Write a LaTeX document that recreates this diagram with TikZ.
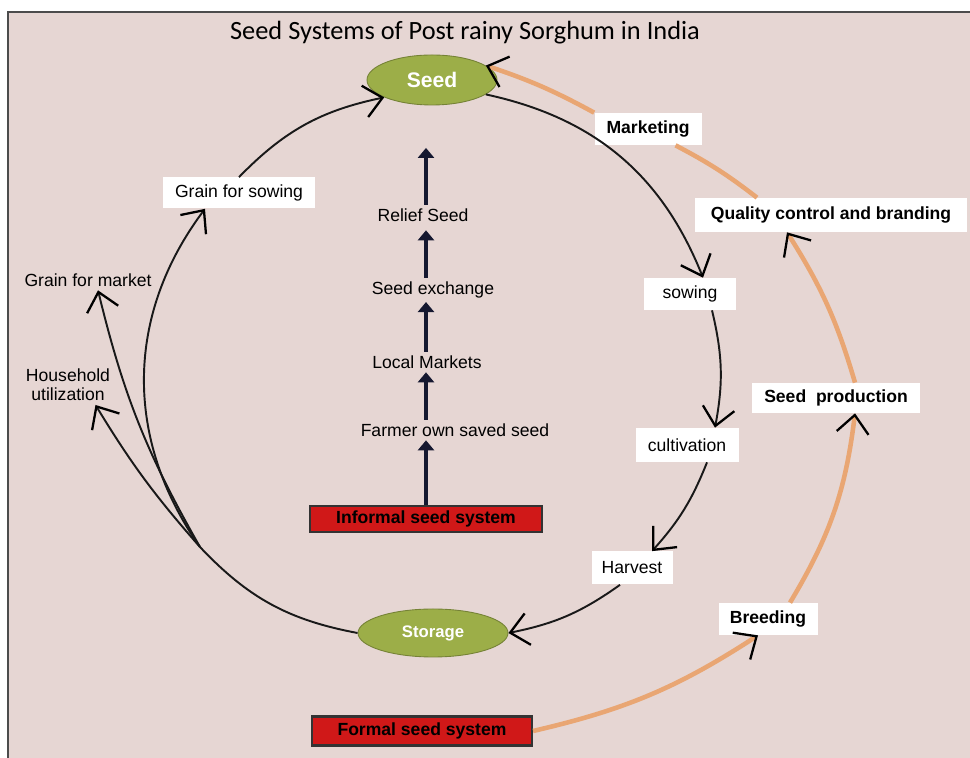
\documentclass[tikz,border=0pt]{standalone}
\usepackage{fontspec}
\setmainfont{Liberation Sans}
\newfontfamily\titlefont{Carlito}
\usetikzlibrary{arrows.meta, shapes.geometric}
\definecolor{bgpink}{HTML}{E6D6D3}
\definecolor{leafgreen}{HTML}{9CAE48}
\definecolor{boxred}{HTML}{D01818}
\definecolor{orangeline}{HTML}{E9A673}
\definecolor{darknavy}{HTML}{151830}
\begin{document}
\begin{tikzpicture}[
    whitebox/.style={shape=rectangle, fill=white, inner sep=0, font=\fontsize{10}{12}\selectfont},
    boldbox/.style={whitebox, font=\fontsize{10}{12}\selectfont\bfseries},
    freetext/.style={inner sep=2pt, align=center, font=\fontsize{10}{11}\selectfont},
    oval/.style={shape=ellipse, fill=leafgreen, draw=leafgreen!75!black, line width=0.5pt, inner sep=0, text=white},
    redbox/.style={shape=rectangle, fill=boxred, draw=black!80, line width=1.2pt, inner sep=0, font=\fontsize{10}{12}\selectfont\bfseries},
    barb/.style={-{Straight Barb[length=3.6mm, width=6.4mm, line width=1.3pt, color=black]}},
    cyclearc/.style={barb, draw=black!90, line width=1.1pt},
    formalarc/.style={barb, draw=orangeline, line width=2.6pt},
    stackarrow/.style={draw=darknavy, line width=2.6pt, -{Triangle[length=2mm, width=3.2mm]}}
  ]
  \useasboundingbox (0, 0) rectangle (19.4, 15.16);
  \fill[bgpink] (0.16, 0) rectangle (19.4, 14.92);
  \draw[black!70, line width=1pt] (0.16, 0) -- (0.16, 14.92) -- (19.4, 14.92);
  % Paths, nodes and wires:
  \node (title) at (9.3, 14.5) {\titlefont\fontsize{15}{18}\selectfont Seed Systems of Post rainy Sorghum in India};
  \node[oval, minimum width=2.6cm, minimum height=1cm, font=\fontsize{12}{14}\selectfont\bfseries] (seed) at (8.64, 13.56) {Seed};
  \node[oval, minimum width=3cm, minimum height=0.96cm, font=\fontsize{9.5}{11}\selectfont\bfseries] (storage) at (8.66, 2.5) {Storage};
  \node[redbox, minimum width=4.64cm, minimum height=0.52cm] (informal) at (8.52, 4.78) {Informal seed system};
  \node[redbox, minimum width=4.4cm, minimum height=0.58cm] (formal) at (8.44, 0.54) {Formal seed system};
  \node[freetext] (farmer) at (9.1, 6.56) {Farmer own saved seed};
  \node[freetext] (local) at (8.54, 7.92) {Local Markets};
  \node[freetext] (exchange) at (8.66, 9.36) {Seed exchange};
  \node[freetext] (relief) at (8.46, 10.86) {Relief Seed};
  \node[whitebox, minimum width=1.84cm, minimum height=0.64cm] (sowing) at (13.8, 9.28) {sowing};
  \node[whitebox, minimum width=2.06cm, minimum height=0.68cm] (cultivation) at (13.74, 6.26) {cultivation};
  \node[whitebox, minimum width=1.62cm, minimum height=0.66cm] (harvest) at (12.64, 3.8) {Harvest};
  \node[boldbox, minimum width=1.98cm, minimum height=0.64cm] (breeding) at (15.36, 2.78) {Breeding};
  \node[boldbox, minimum width=3.36cm, minimum height=0.6cm] (seedprod) at (16.72, 7.2) {Seed~~production};
  \node[boldbox, minimum width=5.44cm, minimum height=0.68cm] (quality) at (16.62, 10.86) {Quality control and branding};
  \node[boldbox, minimum width=2.14cm, minimum height=0.64cm] (marketing) at (12.96, 12.58) {Marketing};
  \node[whitebox, minimum width=3.04cm, minimum height=0.62cm] (grainsow) at (4.78, 11.3) {Grain for sowing};
  \node[freetext] (market) at (1.76, 9.56) {Grain for market};
  \node[freetext] (household) at (1.36, 7.46) {Household\\utilization};
  \coordinate (split) at (4, 4.22);
  \draw[stackarrow] (informal.north) -- (informal.north |- farmer.south);
  \draw[stackarrow] (informal.north |- farmer.north) -- (informal.north |- local.south);
  \draw[stackarrow] (informal.north |- local.north) -- (informal.north |- exchange.south);
  \draw[stackarrow, shorten >=1mm] (informal.north |- exchange.north) -- (informal.north |- relief.south);
  \draw[stackarrow, shorten >=8.5mm] (informal.north |- relief.north) -- (informal.north |- seed.south);
  \draw[cyclearc] (seed.-15) to[bend left=28] ([xshift=0.26cm]sowing.north);
  \draw[cyclearc] ([xshift=0.44cm]sowing.south) to[bend left=12] ([xshift=0.56cm]cultivation.north);
  \draw[cyclearc] ([xshift=0.4cm]cultivation.south) to[bend left=10] ([xshift=0.4cm]harvest.north);
  \draw[cyclearc] ([xshift=-0.24cm]harvest.south) to[bend left=12] (storage.east);
  \draw[draw=black!90, line width=1.1pt] (storage.west) to[bend left=18] (split);
  \draw[cyclearc] (split) to[bend left=36] ([xshift=-0.68cm]grainsow.south);
  \draw[cyclearc] (split) to[bend left=8] ([xshift=0.2cm]market.south);
  \draw[cyclearc] (split) to[bend left=5] ([xshift=0.55cm]household.south);
  \draw[cyclearc] (grainsow.north) to[bend left=17] (seed.200);
  \draw[formalarc] (formal.east) to[bend right=10] ([xshift=-0.2cm]breeding.south);
  \draw[formalarc] ([xshift=0.44cm]breeding.north) to[bend right=12] ([xshift=0.38cm]seedprod.south);
  \draw[formalarc] ([xshift=0.38cm]seedprod.north) to[bend right=8] ([xshift=-0.88cm]quality.south);
  \draw[formalarc, -] ([xshift=-1.48cm]quality.north) to[bend right=5] ([xshift=0.55cm]marketing.south);
  \draw[formalarc] (marketing.north west) to[bend right=5] (seed.15);
\end{tikzpicture}
\end{document}
